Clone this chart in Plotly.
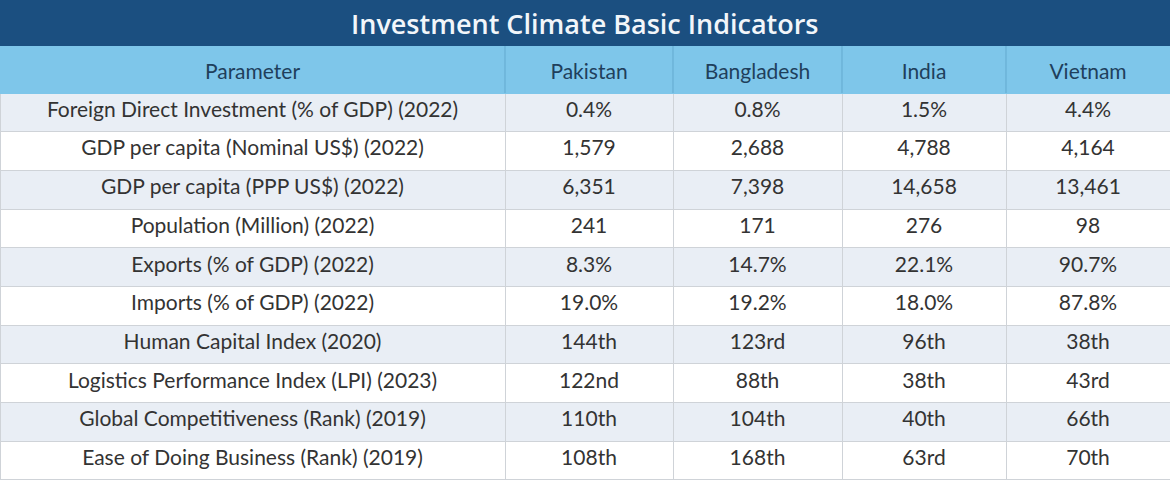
import plotly.graph_objects as go

title = "Investment Climate Basic Indicators"
header = ["Parameter", "Pakistan", "Bangladesh", "India", "Vietnam"]
parameters = [
    "Foreign Direct Investment (% of GDP) (2022)",
    "GDP per capita (Nominal US$) (2022)",
    "GDP per capita (PPP US$) (2022)",
    "Population (Million) (2022)",
    "Exports (% of GDP) (2022)",
    "Imports (% of GDP) (2022)",
    "Human Capital Index (2020)",
    "Logistics Performance Index (LPI) (2023)",
    "Global Competitiveness (Rank) (2019)",
    "Ease of Doing Business (Rank) (2019)",
]
pakistan = ["0.4%", "1,579", "6,351", "241", "8.3%", "19.0%", "144th", "122nd", "110th", "108th"]
bangladesh = ["0.8%", "2,688", "7,398", "171", "14.7%", "19.2%", "123rd", "88th", "104th", "168th"]
india = ["1.5%", "4,788", "14,658", "276", "22.1%", "18.0%", "96th", "38th", "40th", "63rd"]
vietnam = ["4.4%", "4,164", "13,461", "98", "90.7%", "87.8%", "38th", "43rd", "66th", "70th"]

col_widths = [505, 168, 169, 164, 164]

W, H = 1170, 480
title_h = 46
header_pad = 9          # extra light-blue band above the table header
header_h = 47 - header_pad
row_h = (H - title_h - 47) / len(parameters)

shade = "#e9eef5"
header_blue = "#7ec6ea"
header_line = "#62a9cf"
row_fill = [shade if i % 2 == 0 else "#ffffff" for i in range(len(parameters))]

table_top = (H - title_h - header_pad) / H
header_bottom = (H - title_h - 47) / H

fig = go.Figure(go.Table(
    domain=dict(x=[0, 1], y=[0, table_top]),
    columnwidth=col_widths,
    header=dict(
        values=header,
        fill_color=header_blue,
        line=dict(color=header_blue, width=1),
        align="center",
        height=header_h,
        font=dict(family="Lato", size=21, color="#1f3f5c"),
    ),
    cells=dict(
        values=[parameters, pakistan, bangladesh, india, vietnam],
        fill_color=[row_fill] * 5,
        line=dict(color="#cfd3d8", width=1),
        align="center",
        height=row_h,
        font=dict(family="Lato", size=21, color="#333333"),
    ),
))

# title bar
fig.add_shape(type="rect", xref="paper", yref="paper",
              x0=0, x1=1, y0=(H - title_h) / H, y1=1,
              fillcolor="#1b4f80", line=dict(width=0), layer="below")
# light-blue band that completes the header row above the table
fig.add_shape(type="rect", xref="paper", yref="paper",
              x0=0, x1=1, y0=table_top, y1=(H - title_h) / H,
              fillcolor=header_blue, line=dict(width=0), layer="below")
# header column separators
total_w = sum(col_widths)
acc = 0
for w in col_widths[:-1]:
    acc += w
    fig.add_shape(type="line", xref="paper", yref="paper",
                  x0=acc / total_w, x1=acc / total_w,
                  y0=header_bottom, y1=(H - title_h) / H,
                  line=dict(color=header_line, width=1), layer="above")

fig.add_annotation(text=title, xref="paper", yref="paper",
                   x=0.5, y=1 - (title_h / 2) / H, showarrow=False,
                   xanchor="center", yanchor="middle",
                   font=dict(family="Open Sans", size=27, weight=600, color="#f2f6fa"))

fig.update_layout(width=W, height=H, margin=dict(l=0, r=0, t=0, b=0),
                  paper_bgcolor="#ffffff", plot_bgcolor="#ffffff")

fig.write_html("out.html", config={"displayModeBar": False},
               post_script="document.body.style.margin='0';document.body.style.padding='0';")
